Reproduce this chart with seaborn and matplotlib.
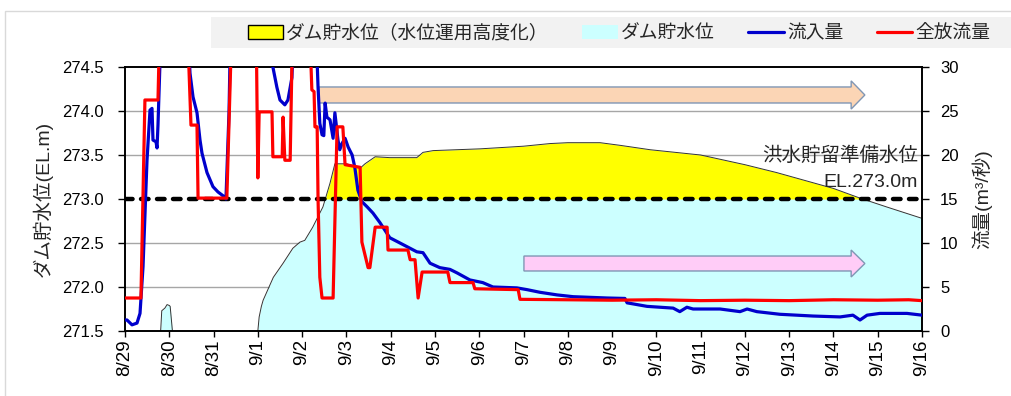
import numpy as np
import pandas as pd
import matplotlib
matplotlib.use("Agg")
import matplotlib.pyplot as plt
import seaborn as sns
from matplotlib.patches import Patch, Polygon, Rectangle
from matplotlib.lines import Line2D

# ---------------- data (x = days since 8/29 00:00) ----------------
date_labels = ["8/29", "8/30", "8/31", "9/1", "9/2", "9/3", "9/4", "9/5", "9/6",
               "9/7", "9/8", "9/9", "9/10", "9/11", "9/12", "9/13", "9/14",
               "9/15", "9/16"]

level_day = [0.0, 0.80, 0.83, 0.90, 0.95, 1.00, 1.02, 1.08, 1.10, 2.98, 3.00,
             3.03, 3.08, 3.12, 3.35, 3.57, 3.79, 3.95, 4.06, 4.24, 4.47, 4.63,
             4.74, 5.01, 5.31, 5.42, 5.65, 5.98, 6.59, 6.73, 6.96, 8.02, 9.00,
             9.60, 10.0, 10.73, 11.18, 11.86, 13.0, 14.0, 14.72, 16.0, 16.6,
             17.2, 18.0]
level_m = [271.30, 271.45, 271.73, 271.76, 271.80, 271.79, 271.78, 271.45,
           271.30, 271.30, 271.50, 271.66, 271.78, 271.85, 272.11, 272.27,
           272.44, 272.51, 272.53, 272.68, 272.91, 273.18, 273.40, 273.40,
           273.35, 273.40, 273.48, 273.47, 273.47, 273.53, 273.55, 273.57,
           273.60, 273.63, 273.64, 273.64, 273.61, 273.56, 273.50, 273.39,
           273.30, 273.12, 273.01, 272.91, 272.78]

inflow_day = [0.0, 0.045, 0.158, 0.271, 0.339, 0.407, 0.497, 0.565, 0.61,
              0.632, 0.70, 0.723, 0.745, 0.79, 0.86, 1.40, 1.468, 1.536,
              1.626, 1.694, 1.739, 1.852, 1.987, 2.10, 2.258, 2.28, 2.35,
              2.39, 3.27, 3.32, 3.43, 3.50, 3.61, 3.68, 3.77, 3.82, 4.29,
              4.34, 4.36, 4.40, 4.45, 4.49, 4.52, 4.56, 4.63, 4.70, 4.74,
              4.81, 4.85, 4.90, 4.97, 5.04, 5.13, 5.19, 5.26, 5.35, 5.47,
              5.60, 5.76, 5.98, 6.21, 6.59, 6.73, 6.89, 7.11, 7.34, 7.50,
              7.79, 8.08, 8.31, 8.85, 9.08, 9.37, 9.76, 10.12, 10.89, 11.29,
              11.34, 11.79, 12.38, 12.53, 12.69, 12.83, 13.44, 13.89, 14.05,
              14.27, 14.79, 15.54, 16.15, 16.44, 16.60, 16.76, 17.05, 17.66,
              18.0]
inflow_q = [1.25, 1.25, 0.7, 0.9, 2.0, 7.3, 19.4, 25.1, 25.3, 21.7, 21.5,
            20.8, 23.4, 30.5, 36, 36, 29.3, 26.6, 24.8, 21.7, 20.2, 18.0,
            16.4, 15.8, 15.2, 15.0, 25.0, 36, 36, 30.5, 27.7, 26.25, 25.7,
            26.25, 28.8, 36, 36, 30.5, 27.7, 23.6, 22.3, 22.2, 25.9, 24.3,
            24.0, 21.9, 24.8, 21.7, 20.6, 21.3, 21.9, 20.9, 20.0, 18.6, 16.0,
            14.7, 14.1, 13.4, 12.3, 10.6, 10.0, 9.0, 8.9, 7.7, 7.2, 7.0, 6.6,
            5.8, 5.5, 5.0, 4.9, 4.7, 4.4, 4.1, 3.9, 3.75, 3.7, 3.2, 2.8, 2.6,
            2.2, 2.7, 2.5, 2.5, 2.2, 2.5, 2.2, 1.9, 1.7, 1.6, 1.8, 1.25, 1.8,
            2.0, 2.0, 1.8]

outflow_day = [0.0, 0.36, 0.45, 0.745, 0.79, 1.40, 1.49, 1.626, 1.65, 2.30,
               2.42, 2.96, 3.00, 3.03, 3.32, 3.34, 3.55, 3.57, 3.61, 3.73,
               3.79, 4.16, 4.22, 4.27, 4.29, 4.34, 4.36, 4.40, 4.45, 4.70,
               4.79, 4.92, 4.97, 5.31, 5.35, 5.49, 5.53, 5.65, 5.92, 5.94,
               6.39, 6.44, 6.55, 6.62, 6.71, 7.29, 7.34, 7.86, 7.90, 8.88,
               8.92, 10.0, 11.0, 12.0, 13.0, 14.0, 15.0, 16.0, 17.0, 17.7,
               18.0]
outflow_q = [3.75, 3.75, 26.25, 26.25, 36, 36, 23.4, 23.4, 15.1, 15.1, 36,
             36, 17.4, 24.9, 24.9, 19.8, 19.8, 24.3, 19.4, 19.4, 36, 36, 27.4,
             27.2, 23.2, 23.2, 15.0, 6.1, 3.75, 3.75, 23.2, 23.2, 18.9, 18.6,
             10.1, 7.2, 7.2, 11.8, 11.8, 9.2, 9.2, 8.1, 8.1, 3.75, 6.7, 6.7,
             5.5, 5.5, 4.8, 4.7, 3.6, 3.55, 3.5, 3.55, 3.45, 3.5, 3.45, 3.55,
             3.5, 3.55, 3.45]

flood_level = 273.0
legend_labels = ["ダム貯水位（水位運用高度化）", "ダム貯水位", "流入量", "全放流量"]
note_lines = ["洪水貯留準備水位", "EL.273.0m"]

# arrows: (start day, tip day, centre flow, body height, head height)
arrow_top = (4.38, 16.71, 26.82, 1.82, 3.2)
arrow_low = (9.01, 16.71, 7.67, 1.70, 3.06)

# ---------------- style ----------------
sns.set_theme(style="white")
plt.rcParams['font.family'] = ['Liberation Sans', 'Noto Sans CJK JP', 'DejaVu Sans']

C_YEL = "#ffff00"
C_CYAN = "#ccffff"
C_BLUE = "#0000cc"
C_RED = "#ff0000"

fig = plt.figure(figsize=(10.11, 3.96), dpi=100)
ax = fig.add_axes([125/1011, 1-331/396, (922-125)/1011, (331-67)/396])
ax2 = ax.twinx()

# outer frame and legend band
fig.patches.append(Rectangle((5/1011, -0.2), 1.2, 1.2 - 11/396, transform=fig.transFigure,
                             facecolor="none", edgecolor="#d9d9d9", lw=1))
fig.patches.append(Rectangle((211/1011, 1-48/396), 1.0, 31/396, transform=fig.transFigure,
                             facecolor="#f2f2f2", edgecolor="none"))

lv = pd.DataFrame({"day": level_day, "m": level_m})
xs = lv["day"].to_numpy()
ys = lv["m"].to_numpy()

# grid
ax.set_axisbelow(True)
for g in [272.0, 272.5, 273.5, 274.0]:
    ax.axhline(g, color="#a6a6a6", lw=1.0, zorder=0.5)

ax.fill_between(xs, 271.5, ys, color=C_CYAN, lw=0, zorder=1)
ax.fill_between(xs, flood_level, ys, where=ys >= flood_level, interpolate=True,
                color=C_YEL, lw=0, zorder=1.2)
sns.lineplot(x=xs, y=ys, ax=ax, color="#333333", lw=0.7, sort=False,
             estimator=None, zorder=1.5)
ax.axhline(flood_level, color="black", lw=3.2, dashes=(1.7, 1.9),
           dash_capstyle="round", zorder=2)

ax.text(17.91, 273.50, note_lines[0], ha="right", va="center", fontsize=14,
        family=['Noto Sans CJK JP'], zorder=3)
ax.text(17.91, 273.19, note_lines[1], ha="right", va="center", fontsize=14, zorder=3)

ax.set_xlim(0, 18)
ax.set_ylim(271.5, 274.5)
ax.set_yticks(np.arange(271.5, 274.51, 0.5))
ax.set_yticklabels([f"{v:.1f}" for v in np.arange(271.5, 274.51, 0.5)], fontsize=12)
ax.set_xticks(range(len(date_labels)))
ax.set_xticklabels(date_labels, rotation=90, fontsize=13.5)
ax.set_ylabel("ダム貯水位(EL.m)", fontsize=14)
ax.yaxis.set_label_coords(-0.091, 0.5)

# arrows on flow axis
def draw_arrow(a, spec, fc):
    x0, x1, yc, bh, hh = spec
    hl = 0.31
    pts = [(x0, yc - bh/2), (x1 - hl, yc - bh/2), (x1 - hl, yc - hh/2), (x1, yc),
           (x1 - hl, yc + hh/2), (x1 - hl, yc + bh/2), (x0, yc + bh/2)]
    a.add_patch(Polygon(pts, closed=True, facecolor=fc, edgecolor="#8096b4",
                        lw=1.0, zorder=2))

draw_arrow(ax2, arrow_top, "#fbd5b5")
draw_arrow(ax2, arrow_low, "#ffccf7")

sns.lineplot(x=inflow_day, y=inflow_q, ax=ax2, color=C_BLUE, lw=2.3, sort=False,
             estimator=None, zorder=3)
sns.lineplot(x=outflow_day, y=outflow_q, ax=ax2, color=C_RED, lw=2.3, sort=False,
             estimator=None, zorder=4)
ax2.set_ylim(0, 30)
ax2.set_xlim(0, 18)
ax2.set_yticks(range(0, 31, 5))
ax2.set_yticklabels([str(v) for v in range(0, 31, 5)], fontsize=12)
ax2.set_ylabel("流量(m³/秒)", fontsize=14, rotation=90)
ax2.yaxis.set_label_coords(1.063, 0.5)

for a in (ax, ax2):
    for s in a.spines.values():
        s.set_color("black")
        s.set_linewidth(1.2)
    a.grid(False)
ax.tick_params(axis="y", direction="out", length=5, width=1, color="black", pad=10,
               left=True, labelcolor="black")
ax.tick_params(axis="x", direction="out", length=4, width=1, color="black", pad=2,
               bottom=True, labelcolor="black")
ax2.tick_params(axis="y", direction="out", length=5, width=1, color="black", pad=8,
                right=True, labelcolor="black")

handles = [Patch(facecolor=C_YEL, edgecolor="black", lw=1),
           Patch(facecolor=C_CYAN, edgecolor="none"),
           Line2D([], [], color=C_BLUE, lw=2.3),
           Line2D([], [], color=C_RED, lw=2.3)]
fig.legend(handles, legend_labels, loc="center", ncol=4,
           bbox_to_anchor=(619/1011, 1-33/396), frameon=False,
           prop={"family": ["Noto Sans CJK JP"], "size": 13.5},
           handlelength=1.9, handletextpad=0.15, columnspacing=1.8,
           handleheight=0.7)

fig.savefig("out.png", dpi=100)
